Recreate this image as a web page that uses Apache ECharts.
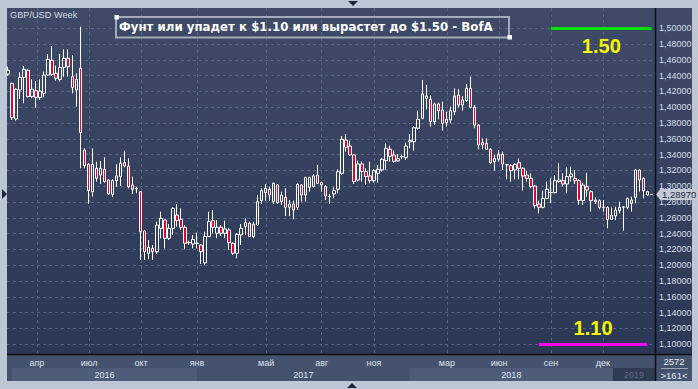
<!DOCTYPE html>
<html><head><meta charset="utf-8">
<script src="https://cdn.jsdelivr.net/npm/echarts@6/dist/echarts.min.js"></script>
<style>html,body{margin:0;padding:0;background:#bcc6d4;}#c{width:698px;height:389px;}</style>
</head><body><div id="c"></div>
<script>
// ---- data (weekly GBP/USD candles, index 0 = first visible week) ----
const opens = [1.4420,1.4303,1.3852,1.4219,1.4379,1.4468,1.4135,1.4211,1.4122,1.4177,
1.4409,1.4595,1.4430,1.4354,1.4506,1.4620,1.4388,1.4219,1.4494,1.3459,
1.3278,1.2932,1.3228,1.3143,1.3215,1.3080,1.2898,1.3071,1.3122,1.3299,
1.3257,1.3016,1.2966,1.2932,1.2434,1.2151,1.2214,1.2172,1.2468,1.2573,
1.2341,1.2468,1.2636,1.2581,1.2480,1.2290,1.2269,1.2278,1.2257,1.2030,
1.2363,1.2565,1.2405,1.2481,1.2405,1.2447,1.2278,1.2152,1.2384,1.2489,
1.2531,1.2363,1.2510,1.2818,1.2920,1.2962,1.2806,1.3017,1.2806,1.2861,
1.2734,1.2776,1.2734,1.3017,1.2890,1.2987,1.2996,1.3143,1.3046,1.2996,
1.2869,1.2903,1.2962,1.3164,1.3586,1.3510,1.3397,1.3080,1.3283,1.3186,
1.3131,1.3072,1.3164,1.3207,1.3325,1.3468,1.3397,1.3320,1.3375,1.3363,
1.3561,1.3565,1.3734,1.3861,1.4114,1.4101,1.3818,1.4042,1.3966,1.3806,
1.3839,1.3945,1.4156,1.4029,1.4084,1.4240,1.4000,1.3776,1.3553,1.3544,
1.3468,1.3312,1.3342,1.3405,1.3275,1.3261,1.3206,1.3299,1.3228,1.3143,
1.3101,1.3004,1.2776,1.2734,1.2848,1.2920,1.2920,1.3059,1.3071,1.3029,
1.3122,1.3101,1.3071,1.2818,1.2995,1.2932,1.2826,1.2818,1.2733,1.2733,
1.2581,1.2624,1.2691,1.2733,1.2733,1.2784,1.2860,1.3206,1.3101,1.2890,
1.2896];
const closes = [1.4470,1.3869,1.4228,1.4379,1.4481,1.4135,1.4228,1.4126,1.4206,1.4409,
1.4607,1.4417,1.4367,1.4506,1.4620,1.4514,1.4249,1.4354,1.3679,1.3261,
1.2945,1.3278,1.3101,1.3228,1.3059,1.2903,1.3071,1.3131,1.3291,1.3257,
1.2995,1.2962,1.2975,1.2425,1.2172,1.2227,1.2172,1.2510,1.2594,1.2341,
1.2468,1.2721,1.2565,1.2480,1.2278,1.2285,1.2328,1.2280,1.2172,1.2365,
1.2553,1.2481,1.2481,1.2405,1.2460,1.2287,1.2152,1.2392,1.2468,1.2540,
1.2363,1.2523,1.2806,1.2945,1.2974,1.2890,1.3038,1.2793,1.2890,1.2734,
1.2776,1.2700,1.3025,1.2890,1.3110,1.3110,1.3131,1.3038,1.3017,1.2877,
1.2871,1.2945,1.3186,1.3595,1.3494,1.3397,1.3059,1.3283,1.3186,1.3122,
1.3072,1.3198,1.3215,1.3342,1.3481,1.3380,1.3316,1.3350,1.3377,1.3510,
1.3578,1.3742,1.3848,1.4169,1.4143,1.3818,1.4042,1.3958,1.3797,1.3848,
1.3958,1.4143,1.4029,1.4093,1.4240,1.4000,1.3776,1.3523,1.3523,1.3468,
1.3299,1.3350,1.3405,1.3282,1.3270,1.3198,1.3278,1.3228,1.3130,1.3101,
1.2996,1.2755,1.2734,1.2848,1.2962,1.2922,1.3071,1.3080,1.3029,1.3122,
1.3156,1.3071,1.2822,1.3016,1.2953,1.2818,1.2805,1.2733,1.2738,1.2581,
1.2636,1.2700,1.2733,1.2740,1.2847,1.2826,1.3206,1.3079,1.2944,1.2932,
1.2897];
const lows = [1.4400,1.3839,1.3831,1.4105,1.4050,1.4126,1.4114,1.3995,1.4093,1.4126,
1.4396,1.4396,1.4337,1.4325,1.4388,1.4388,1.4177,1.4008,1.3228,1.3228,
1.2776,1.2869,1.3059,1.3029,1.3046,1.2890,1.2860,1.2995,1.3004,1.3240,
1.2974,1.2903,1.2911,1.2067,1.2067,1.2075,1.2067,1.2143,1.2341,1.2214,
1.2320,1.2383,1.2489,1.2446,1.2202,1.2257,1.2214,1.2214,1.2016,1.2000,
1.2363,1.2405,1.2342,1.2371,1.2342,1.2194,1.2131,1.2088,1.2257,1.2384,
1.2363,1.2342,1.2498,1.2776,1.2818,1.2818,1.2776,1.2776,1.2764,1.2624,
1.2624,1.2582,1.2700,1.2806,1.2806,1.2932,1.2987,1.3029,1.2932,1.2827,
1.2776,1.2848,1.2911,1.3143,1.3439,1.3384,1.3029,1.3059,1.3059,1.3017,
1.3038,1.3046,1.3046,1.3186,1.3207,1.3312,1.3295,1.3312,1.3346,1.3333,
1.3481,1.3451,1.3713,1.3848,1.3975,1.3755,1.3776,1.3848,1.3704,1.3755,
1.3797,1.3903,1.4000,1.3958,1.4071,1.3987,1.3734,1.3468,1.3468,1.3460,
1.3282,1.3198,1.3312,1.3206,1.3088,1.3059,1.3088,1.3088,1.2945,1.3059,
1.2974,1.2721,1.2658,1.2721,1.2835,1.2785,1.2911,1.3046,1.2996,1.2911,
1.3059,1.3029,1.2764,1.2763,1.2868,1.2679,1.2776,1.2708,1.2679,1.2468,
1.2573,1.2573,1.2657,1.2438,1.2708,1.2679,1.2784,1.2932,1.2847,1.2877,
1.2893];
const highs = [1.4514,1.4312,1.4240,1.4443,1.4523,1.4481,1.4354,1.4333,1.4354,1.4451,
1.4675,1.4776,1.4527,1.4675,1.4734,1.4734,1.4662,1.4430,1.5020,1.3481,
1.3291,1.3481,1.3312,1.3320,1.3367,1.3088,1.3088,1.3278,1.3367,1.3451,
1.3354,1.3122,1.2995,1.2940,1.2440,1.2320,1.2257,1.2552,1.2679,1.2581,
1.2522,1.2733,1.2776,1.2721,1.2510,1.2311,1.2383,1.2413,1.2269,1.2425,
1.2679,1.2700,1.2574,1.2510,1.2565,1.2468,1.2291,1.2405,1.2523,1.2595,
1.2553,1.2553,1.2890,1.2974,1.3029,1.2996,1.3046,1.3029,1.2932,1.2975,
1.2827,1.2818,1.3038,1.3025,1.3122,1.3122,1.3156,1.3270,1.3059,1.3017,
1.2903,1.2987,1.3215,1.3637,1.3662,1.3578,1.3409,1.3325,1.3312,1.3228,
1.3312,1.3215,1.3270,1.3354,1.3544,1.3515,1.3455,1.3409,1.3405,1.3552,
1.3662,1.3763,1.3958,1.4346,1.4283,1.4156,1.4059,1.4059,1.4071,1.3945,
1.4008,1.4240,1.4228,1.4143,1.4295,1.4388,1.4029,1.3789,1.3607,1.3607,
1.3481,1.3397,1.3460,1.3439,1.3282,1.3282,1.3291,1.3354,1.3240,1.3198,
1.3164,1.3017,1.2818,1.2945,1.3059,1.3101,1.3143,1.3291,1.3164,1.3240,
1.3249,1.3206,1.3088,1.3046,1.3172,1.2953,1.2860,1.2835,1.2826,1.2750,
1.2733,1.2742,1.2805,1.2750,1.2860,1.2869,1.3214,1.3214,1.3113,1.2944,
1.2900];

// month ticks (in week-index units) and their labels
const monthTickIdx = [7.2, 20.2, 33.1, 47.0, 64.2, 78.0, 91.0, 109.1, 122.1, 135.0, 147.9];
const monthNames = ['апр','июл','окт','янв','май','авг','ноя','мар','июн','сен','дек'];
// year row
const yearNames = ['2016','2017','2018','2019'];
const yearStart = [1.0, 47.0, 99.9, 150.4];
const yearEnd   = [47.0, 99.9, 150.4, 160.85];
// price ticks
const priceTicks = [1.10,1.12,1.14,1.16,1.18,1.20,1.22,1.24,1.26,1.28,1.30,1.32,1.34,1.36,1.38,1.40,1.42,1.44,1.46,1.48,1.50];
// annotation levels
const levelHigh = 1.50, levelLow = 1.10;
const levelHighRange = [135.0, 160.0];
const levelLowRange = [132.0, 158.9];
const lastPrice = 1.28970;
const titleText = 'Фунт или упадет к $1.10 или вырастет до $1.50 - BofA';
const symbolText = 'GBP/USD Week';

// ---- styles ----
const X_MIN = -0.224, X_MAX = 160.85, Y_MIN = 1.0877, Y_MAX = 1.5257;
const yearBandColors = ['#4e5c79', 'rgba(0,0,0,0)', '#4e5c79', '#303b54'];
const yearTextColors = ['#dfe5ee', '#dfe5ee', '#dfe5ee', '#5d6a83'];
const gridLineStyle = {color: '#56647f', type: [3, 3], width: 1};
const fmtPrice = v => v.toFixed(5).replace('.', ',');

const chart = echarts.init(document.getElementById('c'), null, {renderer: 'svg'});
const candleData = opens.map((o, i) => [i, o, closes[i], lows[i], highs[i]]);

const option = {
  animation: false,
  textStyle: {fontFamily: 'Liberation Sans'},
  title: {
    text: titleText, left: 119, top: 20.6, padding: 0,
    textStyle: {color: '#ffffff', fontSize: 11.8, fontWeight: 'bold', fontFamily: 'DejaVu Sans'}
  },
  graphic: [
    {type: 'rect', z: -10, shape: {x: 7, y: 8, width: 685, height: 346},
     style: {fill: new echarts.graphic.LinearGradient(0, 0, 0, 1, [{offset: 0, color: '#3e4a67'}, {offset: 1, color: '#2b3855'}])}},
    {type: 'rect', z: -10, shape: {x: 7, y: 354, width: 685, height: 27}, style: {fill: '#45526e'}},
    {type: 'line', z: 20, shape: {x1: 7, y1: 354.5, x2: 692, y2: 354.5}, style: {stroke: '#0b0f16', lineWidth: 1.5}},
    {type: 'line', z: 20, shape: {x1: 655.5, y1: 8, x2: 655.5, y2: 381}, style: {stroke: '#0b0f16', lineWidth: 1.5}},
    {type: 'line', z: 20, shape: {x1: 661, y1: 368.5, x2: 688, y2: 368.5}, style: {stroke: '#9aa5b5', lineWidth: 1}},
    {type: 'text', z: 20, style: {text: '2572', x: 674, y: 361.5, align: 'center', verticalAlign: 'middle', fill: '#e6ebf2', font: '9.5px "Liberation Sans"'}},
    {type: 'text', z: 20, style: {text: '>161<', x: 674, y: 375.5, align: 'center', verticalAlign: 'middle', fill: '#e6ebf2', font: '9.5px "Liberation Sans"'}},
    {type: 'text', z: 20, style: {text: symbolText, x: 10, y: 14.5, align: 'left', verticalAlign: 'middle', fill: '#d5dce6', font: '9.2px "Liberation Sans"'}},
    {type: 'rect', z: 20, shape: {x: 116, y: 17, width: 393, height: 20.5}, style: {fill: 'none', stroke: '#a3abb8', lineWidth: 2}},
    {type: 'rect', z: 21, shape: {x: 114.5, y: 15, width: 4.5, height: 4.5}, style: {fill: '#ffffff'}},
    {type: 'rect', z: 21, shape: {x: 507.5, y: 35, width: 4.5, height: 4.5}, style: {fill: '#ffffff'}},
    {type: 'polygon', z: 20, shape: {points: [[348, 1], [358, 1], [353, 6]]}, style: {fill: '#1c2638'}},
    {type: 'polygon', z: 20, shape: {points: [[347, 388], [357, 388], [352, 383]]}, style: {fill: '#1c2638'}},
    {type: 'polygon', z: 20, shape: {points: [[2, 189], [2, 199], [7, 194]]}, style: {fill: '#1c2638'}}
  ],
  grid: [
    {left: 7, top: 8, width: 648, height: 346, outerBoundsMode: 'none', containLabel: false},
    {left: 7, top: 368, width: 648, height: 13, outerBoundsMode: 'none', containLabel: false}
  ],
  xAxis: [
    {type: 'value', gridIndex: 0, min: X_MIN, max: X_MAX,
     axisLine: {show: false},
     axisTick: {show: false, customValues: monthTickIdx},
     axisLabel: {customValues: monthTickIdx, color: '#dde3ec', fontSize: 9, margin: 4,
       formatter: v => monthNames[monthTickIdx.indexOf(v)] || ''},
     splitLine: {show: true, lineStyle: gridLineStyle}},
    {type: 'value', gridIndex: 1, min: X_MIN, max: X_MAX, show: false}
  ],
  yAxis: [
    {type: 'value', gridIndex: 0, position: 'right', min: Y_MIN, max: Y_MAX, scale: true,
     axisLine: {show: false},
     axisTick: {show: false, customValues: priceTicks},
     axisLabel: {customValues: priceTicks, color: '#d8dfe8', fontSize: 9, margin: 4, formatter: fmtPrice},
     splitLine: {show: true, lineStyle: gridLineStyle}},
    {type: 'value', gridIndex: 1, min: 0, max: 1, show: false}
  ],
  series: [
    {
      type: 'candlestick', xAxisIndex: 0, yAxisIndex: 0,
      data: candleData, barWidth: 3, clip: true,
      itemStyle: {color: 'rgba(0,0,0,0)', color0: '#e2062e', borderColor: '#ffffff', borderColor0: '#ffffff', borderWidth: 1},
      emphasis: {disabled: true},
      markLine: {
        silent: true, symbol: ['none', 'none'], animation: false,
        data: [
          [{coord: [levelHighRange[0], levelHigh], lineStyle: {color: '#00e000', width: 3, type: 'solid'},
            label: {show: true, formatter: levelHigh.toFixed(2), position: 'insideMiddleBottom', distance: 8,
                    color: '#f6f600', fontSize: 20, fontWeight: 'bold', fontFamily: 'Liberation Sans'}},
           {coord: [levelHighRange[1], levelHigh]}],
          [{coord: [levelLowRange[0], levelLow], lineStyle: {color: '#ff00ff', width: 3, type: 'solid'},
            label: {show: true, formatter: levelLow.toFixed(2), position: 'insideMiddleTop', distance: 6,
                    color: '#f6f600', fontSize: 20, fontWeight: 'bold', fontFamily: 'Liberation Sans'}},
           {coord: [levelLowRange[1], levelLow]}]
        ]
      },
      markPoint: {
        silent: true, animation: false,
        data: [{coord: [X_MAX, lastPrice], symbol: 'path://M0,5L4,0L4,10Z', symbolSize: [4, 10], symbolOffset: [3, 0],
                itemStyle: {color: '#c3cad4'},
                label: {show: true, position: 'right', distance: 0, formatter: fmtPrice(lastPrice),
                        backgroundColor: '#c3cad4', color: '#1c2640', fontSize: 9.5, padding: [1, 2, 0, 2]}}]
      }
    },
    {
      type: 'custom', xAxisIndex: 1, yAxisIndex: 1, silent: true,
      data: yearNames.map((n, i) => [yearStart[i], yearEnd[i]]),
      renderItem: (params, api) => {
        const i = params.dataIndex;
        const s = api.coord([api.value(0), 1]);
        const e = api.coord([api.value(1), 0]);
        return {type: 'group', children: [
          {type: 'rect', shape: {x: s[0], y: s[1], width: e[0] - s[0], height: e[1] - s[1]}, style: {fill: yearBandColors[i]}},
          {type: 'text', style: {text: yearNames[i], x: (s[0] + e[0]) / 2, y: (s[1] + e[1]) / 2, align: 'center', verticalAlign: 'middle',
                                 fill: yearTextColors[i], font: '9px "Liberation Sans"'}}
        ]};
      }
    }
  ]
};
chart.setOption(option);
</script></body></html>
